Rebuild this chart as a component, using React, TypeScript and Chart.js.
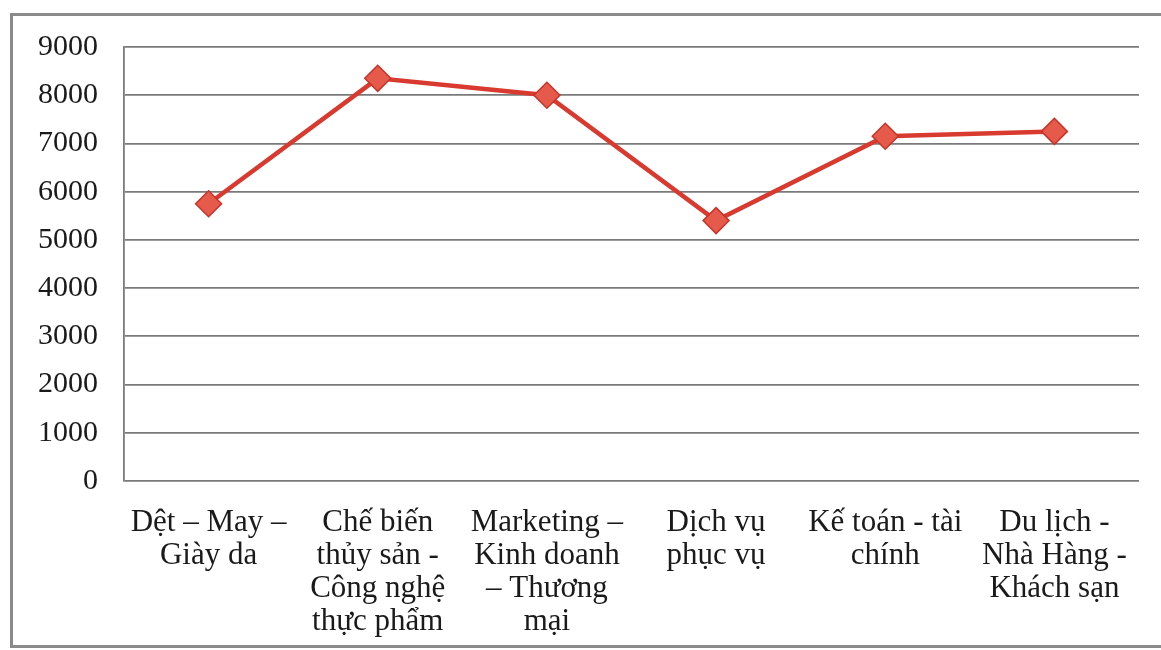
import React, { useEffect, useRef } from "react";
import { Chart, registerables } from "chart.js";

Chart.register(...registerables);

const categories: string[][] = [
  ["Dệt – May –", "Giày da"],
  ["Chế biến", "thủy sản -", "Công nghệ", "thực phẩm"],
  ["Marketing –", "Kinh doanh", "– Thương", "mại"],
  ["Dịch vụ", "phục vụ"],
  ["Kế toán - tài", "chính"],
  ["Du lịch -", "Nhà Hàng -", "Khách sạn"],
];

const values: number[] = [5750, 8350, 8000, 5400, 7150, 7250];

const yMin = 0;
const yMax = 9000;
const yStep = 1000;

const FONT = "'Liberation Serif', 'Times New Roman', serif";

export default function App() {
  const ref = useRef<HTMLCanvasElement | null>(null);

  useEffect(() => {
    if (!ref.current) return;
    const chart = new Chart(ref.current, {
      type: "line",
      data: {
        labels: categories,
        datasets: [
          {
            data: values,
            borderColor: "#d83a2f",
            borderWidth: 4.5,
            pointStyle: "rectRot",
            pointRadius: 13,
            pointBackgroundColor: "#e55a4b",
            pointBorderColor: "#c93329",
            pointBorderWidth: 1.5,
            tension: 0,
            fill: false,
          },
        ],
      },
      options: {
        animation: false,
        responsive: false,
        maintainAspectRatio: false,
        layout: { padding: { left: 0, top: 47, right: 22, bottom: 0 } },
        plugins: {
          legend: { display: false },
          tooltip: { enabled: false },
        },
        scales: {
          x: {
            offset: true,
            grid: { display: false, drawTicks: false },
            border: { display: false },
            ticks: {
              color: "#1a1a1a",
              padding: 25,
              maxRotation: 0,
              autoSkip: false,
              font: { family: FONT, size: 31, lineHeight: 1.07 },
            },
            afterFit: (scale: any) => {
              scale.height = 169;
            },
          },
          y: {
            min: yMin,
            max: yMax,
            grid: { color: "#7a7a7a", lineWidth: 1.8, drawTicks: false },
            border: { display: true, color: "#7a7a7a", width: 1.8 },
            ticks: {
              stepSize: yStep,
              color: "#1a1a1a",
              padding: 26,
              font: { family: FONT, size: 30 },
              callback: (v: any) => String(v),
            },
            afterFit: (scale: any) => {
              scale.width = 124;
            },
          },
        },
      },
    });
    return () => chart.destroy();
  }, []);

  return (
    <div style={{ position: "fixed", left: 0, top: 0, width: 1161, height: 650, background: "#fff", overflow: "hidden" }}>
      <div
        style={{
          position: "absolute",
          left: 10,
          top: 13,
          width: 1170,
          height: 635,
          border: "3px solid #8a8a8a",
          boxSizing: "border-box",
        }}
      />
      <canvas ref={ref} width={1161} height={650} style={{ position: "absolute", left: 0, top: 0 }} />
    </div>
  );
}
